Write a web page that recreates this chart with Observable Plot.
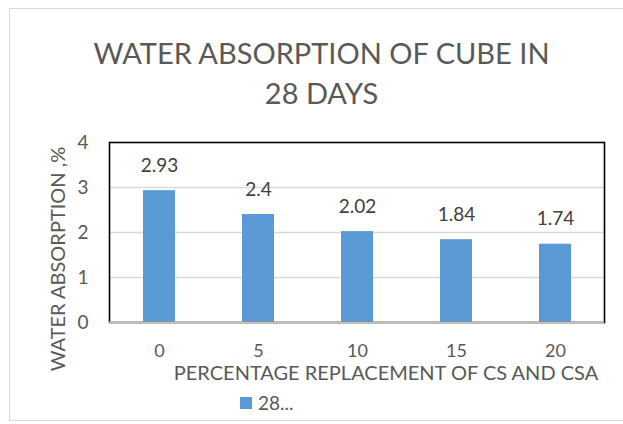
<!DOCTYPE html>
<html>
<head>
<meta charset="utf-8">
<script src="https://cdn.jsdelivr.net/npm/d3@7"></script>
<script src="https://cdn.jsdelivr.net/npm/@observablehq/plot@0.6"></script>
<style>
  html, body { margin: 0; padding: 0; background: #fff; }
  body { width: 623px; height: 424px; position: relative; overflow: hidden; font-family: Lato, "Open Sans", sans-serif; color: #595959; }
  #border { position: absolute; left: 9px; top: 8px; width: 640px; height: 413px; border: 1px solid #d9d9d9; box-sizing: border-box; }
  #chart { position: absolute; left: 0; top: 0; }
  .t { position: absolute; white-space: nowrap; color: #595959; }
  #title { left: 0; width: 643px; top: 33px; text-align: center; font-size: 29px; line-height: 40px; }
  #ylab { left: 57px; top: 259px; font-size: 20px; transform: translate(-50%, -50%) rotate(-90deg); }
  #xlab { left: 386px; top: 372px; font-size: 20px; line-height: 20px; transform: translate(-50%, -50%); }
  #legend { left: 240px; top: 391px; font-size: 19px; display: flex; align-items: center; }
  #legend .sw { width: 12px; height: 12px; background: #5B9BD5; margin-right: 6px; }
</style>
</head>
<body>
<div id="border"></div>
<div id="chart"></div>
<div id="title" class="t">WATER ABSORPTION OF CUBE IN<br>28 DAYS</div>
<div id="ylab" class="t">WATER ABSORPTION ,%</div>
<div id="xlab" class="t">PERCENTAGE REPLACEMENT OF CS AND CSA</div>
<div id="legend" class="t"><span class="sw"></span><span>28...</span></div>
<script>
const categories = ["0", "5", "10", "15", "20"];
const values = [2.93, 2.4, 2.02, 1.84, 1.74];
const valueLabels = ["2.93", "2.4", "2.02", "1.84", "1.74"];
const yTicks = [0, 1, 2, 3, 4];

const data = categories.map((c, i) => ({cat: c, v: values[i], label: valueLabels[i]}));

const chart = Plot.plot({
  width: 623,
  height: 424,
  marginLeft: 109,
  marginRight: 19,
  marginTop: 142,
  marginBottom: 102,
  style: {fontFamily: "Lato, 'Open Sans', sans-serif", fontSize: "19px", color: "#595959", background: "transparent"},
  x: {domain: categories, paddingInner: 0.68, paddingOuter: 0.34, label: null},
  y: {domain: [0, 4], label: null},
  marks: [
    Plot.gridY(yTicks.filter(d => d > 0 && d < 4), {stroke: "#d9d9d9", strokeOpacity: 1, strokeWidth: 1.3}),
    Plot.barY(data, {x: "cat", y: "v", fill: "#5B9BD5"}),
    Plot.frame({stroke: "#000", strokeWidth: 1.6}),
    Plot.ruleY([0], {stroke: "#bfbfbf", strokeWidth: 2}),
    Plot.axisY({ticks: yTicks, tickFormat: d3.format("d"), tickSize: 0, tickPadding: 21, fontSize: 19, fill: "#595959", label: null}),
    Plot.axisX({tickSize: 0, tickPadding: 22, fontSize: 18, fill: "#595959", label: null}),
    Plot.text(data, {x: "cat", y: "v", text: "label", dy: -25, fontSize: 19, fill: "#404040"})
  ]
});
document.getElementById("chart").appendChild(chart);
</script>
</body>
</html>
